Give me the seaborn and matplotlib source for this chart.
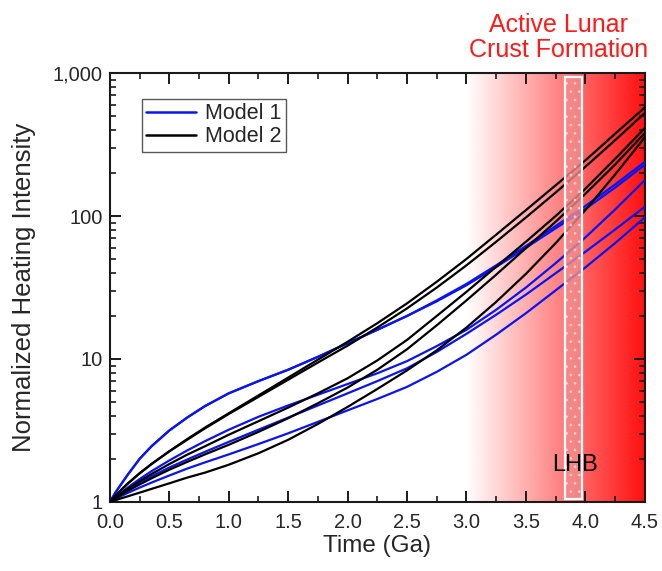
import numpy as np
import matplotlib
matplotlib.use("Agg")
import matplotlib.pyplot as plt
import seaborn as sns
import pandas as pd
from matplotlib.colors import LinearSegmentedColormap
from matplotlib.patches import Rectangle
from matplotlib.ticker import FixedLocator, LogLocator, FuncFormatter, NullFormatter

# time axis (Ga), denser at the start where curves bend
time_ga = [0.0, 0.05, 0.1, 0.15, 0.25, 0.35, 0.5, 0.65, 0.8, 1.0, 1.25, 1.5,
           1.75, 2.0, 2.25, 2.5, 2.75, 3.0, 3.25, 3.5, 3.75, 4.0, 4.25, 4.5]

# Model 1 runs (blue)
model1_a = [1, 1.175, 1.35, 1.55, 2.0, 2.45, 3.16, 3.89, 4.68, 5.75, 7.0, 8.41,
            10.35, 12.9, 16.0, 20.0, 25.7, 33.5, 45.2, 61.7, 85.1, 117.5, 166, 239]
model1_b = [1, 1.084, 1.17, 1.26, 1.445, 1.64, 1.95, 2.29, 2.66, 3.2, 3.94, 4.73,
            5.62, 6.68, 7.94, 9.66, 12.3, 16.0, 22.1, 31.6, 46.8, 70.8, 111, 178]
model1_c = [1, 1.072, 1.143, 1.216, 1.365, 1.51, 1.74, 1.98, 2.24, 2.63, 3.2, 3.89,
            4.73, 5.75, 7.0, 8.61, 11.2, 15.0, 20.4, 28.2, 39.8, 56.2, 80.4, 116]
model1_d = [1, 1.052, 1.104, 1.156, 1.259, 1.365, 1.53, 1.71, 1.89, 2.15, 2.54, 3.02,
            3.63, 4.37, 5.25, 6.38, 8.13, 10.7, 14.8, 20.9, 30.2, 43.7, 64.6, 97.7]
model1_e = [1, 1.175, 1.35, 1.55, 2.0, 2.45, 3.16, 3.89, 4.68, 5.75, 7.0, 8.41,
            10.35, 12.9, 16.0, 20.0, 25.3, 32.8, 44, 60, 82, 112, 158, 228]

# Model 2 runs (black)
model2_a = [1, 1.109, 1.225, 1.343, 1.585, 1.84, 2.26, 2.75, 3.31, 4.17, 5.56, 7.41,
            9.89, 13.2, 17.8, 24.5, 34.7, 50.1, 74.1, 110, 164, 245, 376, 575]
model2_b = [1, 1.109, 1.225, 1.343, 1.585, 1.84, 2.26, 2.72, 3.27, 4.12, 5.43, 7.16,
            9.44, 12.4, 16.6, 22.6, 31.6, 45.2, 66.1, 97.7, 146, 221, 339, 525]
model2_c = [1, 1.076, 1.156, 1.236, 1.396, 1.567, 1.84, 2.14, 2.45, 2.95, 3.67, 4.57,
            5.75, 7.33, 9.77, 13.6, 20.0, 29.5, 44.2, 66.1, 100, 155, 251, 412]
model2_d = [1, 1.064, 1.127, 1.194, 1.324, 1.462, 1.68, 1.905, 2.15, 2.51, 3.09, 3.85,
            4.9, 6.31, 8.41, 11.7, 17.2, 25.7, 38.9, 59.6, 91.2, 143, 229, 380]
model2_e = [1, 1.03, 1.062, 1.094, 1.161, 1.233, 1.349, 1.479, 1.603, 1.82, 2.19, 2.72,
            3.51, 4.62, 6.17, 8.32, 11.5, 16.6, 25.1, 39.4, 64.6, 110, 195, 355]

x_ticks = [0.0, 0.5, 1.0, 1.5, 2.0, 2.5, 3.0, 3.5, 4.0, 4.5]
y_ticks = [1, 10, 100, 1000]

runs = {
    ("Model 1", "1a"): model1_a, ("Model 1", "1b"): model1_b, ("Model 1", "1c"): model1_c,
    ("Model 1", "1d"): model1_d, ("Model 1", "1e"): model1_e,
    ("Model 2", "2a"): model2_a, ("Model 2", "2b"): model2_b, ("Model 2", "2c"): model2_c,
    ("Model 2", "2d"): model2_d, ("Model 2", "2e"): model2_e,
}
rows = []
for (model, run), vals in runs.items():
    for t, v in zip(time_ga, vals):
        rows.append({"time": t, "intensity": v, "model": model, "run": run})
df = pd.DataFrame(rows)

sns.set_style("ticks")
plt.rcParams["font.family"] = ["Liberation Sans", "DejaVu Sans"]
plt.rcParams["hatch.linewidth"] = 0.7

fig = plt.figure(figsize=(6.62, 5.71), dpi=100)
ax = fig.add_axes([0.166, 0.121, 0.808, 0.751])

# white -> red gradient for crust formation period
grad = np.linspace(0, 1, 256).reshape(1, -1)
cmap = LinearSegmentedColormap.from_list("wr", ["#ffffff", "#ff1010"])
ax.imshow(grad, extent=(3.0, 4.5, 0, 1), transform=ax.get_xaxis_transform(),
          aspect="auto", cmap=cmap, zorder=0, interpolation="bilinear")

sns.lineplot(data=df, x="time", y="intensity", hue="model", units="run",
             estimator=None, palette={"Model 1": "#0a14f0", "Model 2": "black"},
             lw=1.6, ax=ax, zorder=3)

ax.set_yscale("log")
ax.set_xlim(0, 4.5)
ax.set_ylim(1, 1000)

# LHB band
lhb = Rectangle((3.83, 0.006), 0.14, 0.985, transform=ax.get_xaxis_transform(),
                facecolor="#f28c8c", edgecolor="#ffd6d6", hatch="..", lw=0,
                alpha=0.8, zorder=4)
ax.add_patch(lhb)
ax.add_patch(Rectangle((3.83, 0.006), 0.14, 0.985, transform=ax.get_xaxis_transform(),
                       facecolor="none", edgecolor="white", lw=1.6, zorder=5))
ax.text(3.91, 0.085, "LHB", transform=ax.get_xaxis_transform(), ha="center",
        va="center", fontsize=17, color="black", zorder=6)

ax.set_xticks(x_ticks)
ax.set_xticklabels([f"{v:.1f}" for v in x_ticks])
ax.xaxis.set_minor_locator(FixedLocator(np.arange(0.25, 4.5, 0.5)))
ax.yaxis.set_major_locator(FixedLocator(y_ticks))
ax.yaxis.set_major_formatter(FuncFormatter(lambda v, _: f"{v:,.0f}"))
ax.yaxis.set_minor_locator(LogLocator(base=10, subs=np.arange(2, 10)))
ax.yaxis.set_minor_formatter(NullFormatter())

ax.tick_params(which="major", direction="in", length=8, width=1.4, labelsize=14.5,
               top=True, right=True, color="0.1")
ax.tick_params(axis="x", which="major", pad=8)
ax.tick_params(axis="y", which="major", pad=5)
ax.tick_params(which="minor", direction="in", length=4, width=1.2,
               top=True, right=True, color="0.1")
for s in ax.spines.values():
    s.set_linewidth(1.5)
    s.set_color("0.1")

ax.set_xlabel("Time (Ga)", fontsize=17.5, labelpad=2)
ax.set_ylabel("Normalized Heating Intensity", fontsize=18.5, labelpad=12)

handles, labels = ax.get_legend_handles_labels()
leg = ax.legend(handles, labels, loc="upper left", bbox_to_anchor=(0.06, 0.94),
                borderaxespad=0, fontsize=15.5, handlelength=2.3, handletextpad=0.45,
                labelspacing=0.1, borderpad=0.2, fancybox=False, framealpha=1,
                edgecolor="0.35")
leg.get_frame().set_linewidth(1.0)
for line in leg.get_lines():
    line.set_linewidth(1.8)

fig.text(0.843, 0.978, "Active Lunar\nCrust Formation", ha="center", va="top",
         color="#ff1a1a", fontsize=18, linespacing=1.1)

fig.savefig("out.png", dpi=100)
